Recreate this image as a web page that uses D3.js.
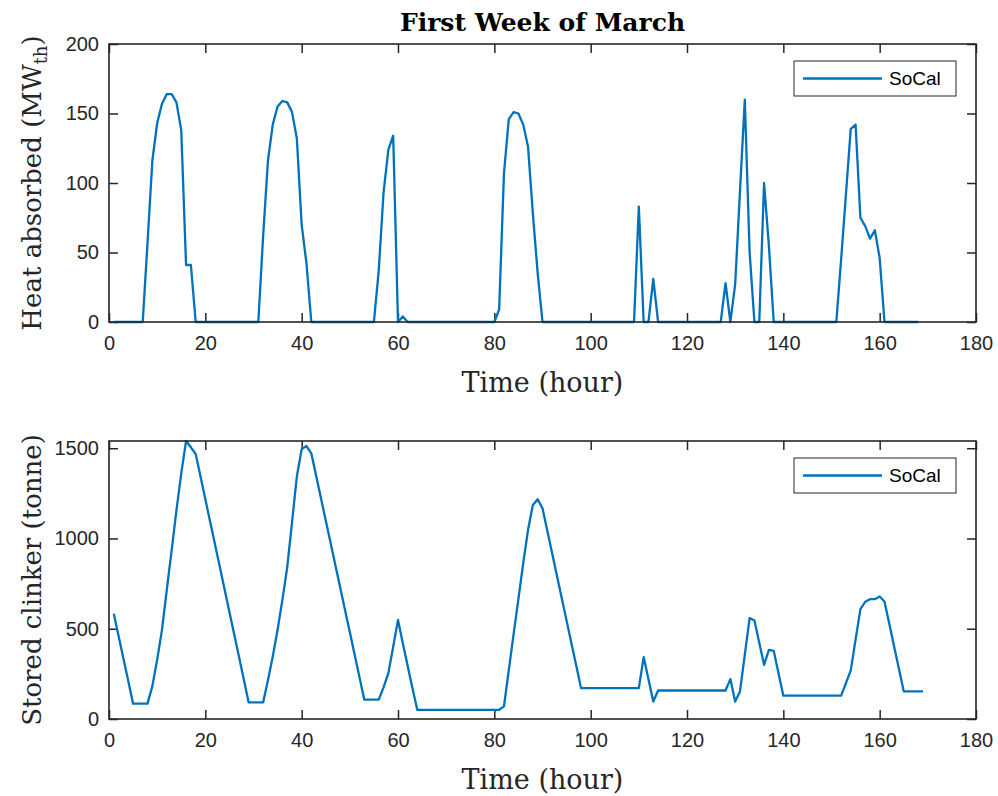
<!DOCTYPE html>
<html>
<head>
<meta charset="utf-8">
<script src="https://cdn.jsdelivr.net/npm/d3@7"></script>
<style>
  html, body { margin: 0; padding: 0; background: #fff; }
  svg { display: block; }
</style>
</head>
<body>
<svg id="chart" width="998" height="796"></svg>
<script>
// ---------------- data ----------------
const chartTitle = "First Week of March";
const seriesName = "SoCal";
const xLabel = "Time (hour)";
const xTicks = [0, 20, 40, 60, 80, 100, 120, 140, 160, 180];
const heatTicks = [0, 50, 100, 150, 200];
const clinkerTicks = [0, 500, 1000, 1500];

// Heat absorbed (MW_th), hours 1..168
const heatAbsorbed = [
  0, 0, 0, 0, 0, 0, 0, 57, 116, 143, 157, 164, 164, 158, 138, 41, 41, 0, 0, 0,
  0, 0, 0, 0, 0, 0, 0, 0, 0, 0, 0, 62, 116, 142, 155, 159, 158, 151, 132, 70,
  42, 0, 0, 0, 0, 0, 0, 0, 0, 0, 0, 0, 0, 0, 0, 37, 93, 124, 134, 0,
  4, 0, 0, 0, 0, 0, 0, 0, 0, 0, 0, 0, 0, 0, 0, 0, 0, 0, 0, 0,
  9, 107, 146, 151, 150, 142, 126, 78, 35, 0, 0, 0, 0, 0, 0, 0, 0, 0, 0, 0,
  0, 0, 0, 0, 0, 0, 0, 0, 0, 83, 0, 0, 31, 0, 0, 0, 0, 0, 0, 0,
  0, 0, 0, 0, 0, 0, 0, 28, 0, 27, 94, 160, 50, 0, 0, 100, 55, 0, 0, 0,
  0, 0, 0, 0, 0, 0, 0, 0, 0, 0, 0, 45, 92, 139, 142, 75, 69, 60, 66, 46,
  0, 0, 0, 0, 0, 0, 0, 0
];

// Stored clinker (tonne), hours 1..169
const storedClinker = [
  583, 458, 334, 210, 85, 85, 85, 85, 182, 328, 494, 716, 933, 1156, 1361, 1540, 1505, 1468, 1343, 1218,
  1093, 968, 843, 718, 593, 468, 343, 218, 92, 92, 92, 92, 215, 346, 494, 660, 840, 1090, 1343, 1495,
  1512, 1472, 1348, 1224, 1100, 976, 852, 728, 604, 480, 356, 232, 107, 107, 107, 107, 175, 254, 400, 549,
  420, 295, 170, 51, 51, 51, 51, 51, 51, 51, 51, 51, 51, 51, 51, 51, 51, 51, 51, 51,
  51, 70, 270, 470, 665, 863, 1048, 1186, 1217, 1167, 1043, 918, 794, 669, 545, 420, 296, 171, 171, 171,
  171, 171, 171, 171, 171, 171, 171, 171, 171, 171, 343, 220, 97, 158, 158, 158, 158, 158, 158, 158,
  158, 158, 158, 158, 158, 158, 158, 158, 221, 97, 153, 356, 559, 546, 423, 300, 383, 378, 253, 129,
  129, 129, 129, 129, 129, 129, 129, 129, 129, 129, 129, 129, 199, 269, 440, 609, 649, 664, 664, 679,
  651, 527, 402, 278, 153, 153, 153, 153, 153
];

// ---------------- drawing ----------------
const svg = d3.select("#chart");
const frameColor = "#262626";
const lineColor = "#0072BD";
const tickFont = "'Liberation Sans', Arial, sans-serif";
const labelFont = "'DejaVu Serif', 'Liberation Serif', serif";

svg.append("rect").attr("width", 998).attr("height", 796).attr("fill", "#fff");

function panel(cfg) {
  const {left, right, top, bottom, values, yDomain, yTicks, yLabel, yLabelSub, legendTop} = cfg;
  const x = d3.scaleLinear().domain([0, 180]).range([left, right]);
  const y = d3.scaleLinear().domain(yDomain).range([bottom, top]);
  const g = svg.append("g");
  const tickLen = 9;

  // axes with inward ticks
  const axB = d3.axisBottom(x).tickValues(xTicks).tickSize(-tickLen).tickPadding(14).tickFormat(d3.format("d"));
  const axT = d3.axisTop(x).tickValues(xTicks).tickSize(-tickLen).tickFormat("");
  const axL = d3.axisLeft(y).tickValues(yTicks).tickSize(-tickLen).tickPadding(10).tickFormat(d3.format("d"));
  const axR = d3.axisRight(y).tickValues(yTicks).tickSize(-tickLen).tickFormat("");

  const gb = g.append("g").attr("transform", `translate(0,${bottom})`).call(axB);
  const gt = g.append("g").attr("transform", `translate(0,${top})`).call(axT);
  const gl = g.append("g").attr("transform", `translate(${left},0)`).call(axL);
  const gr = g.append("g").attr("transform", `translate(${right},0)`).call(axR);
  [gb, gt, gl, gr].forEach(a => {
    a.select(".domain").remove();
    a.selectAll(".tick line").attr("stroke", frameColor).attr("stroke-width", 1.5);
    a.selectAll(".tick text").attr("fill", "#262626").attr("font-family", tickFont).attr("font-size", 20);
  });

  // data line
  const line = d3.line().x((d, i) => x(i + 1)).y(d => y(d));
  g.append("path").datum(values)
    .attr("fill", "none").attr("stroke", lineColor).attr("stroke-width", 2.3)
    .attr("stroke-linejoin", "round").attr("d", line);

  // frame
  g.append("rect").attr("x", left).attr("y", top)
    .attr("width", right - left).attr("height", bottom - top)
    .attr("fill", "none").attr("stroke", frameColor).attr("stroke-width", 1.6);

  // x label
  g.append("text").attr("x", (left + right) / 2).attr("y", bottom + 70)
    .attr("text-anchor", "middle").attr("font-family", labelFont).attr("font-size", 27)
    .attr("fill", "#262626").text(xLabel);

  // y label
  const yl = g.append("text")
    .attr("transform", `translate(41,${(top + bottom) / 2}) rotate(-90)`)
    .attr("text-anchor", "middle").attr("font-family", labelFont).attr("font-size", 26)
    .attr("fill", "#262626");
  if (yLabelSub) {
    yl.append("tspan").text(yLabel[0]);
    yl.append("tspan").attr("font-size", 18).attr("dy", 6).text(yLabelSub);
    yl.append("tspan").attr("dy", -6).text(yLabel[1]);
  } else {
    yl.text(yLabel);
  }

  // legend
  const lx = 794, lw = 162, lh = 35;
  const lg = g.append("g").attr("transform", `translate(${lx},${legendTop})`);
  lg.append("rect").attr("width", lw).attr("height", lh)
    .attr("fill", "#fff").attr("stroke", frameColor).attr("stroke-width", 1);
  lg.append("line").attr("x1", 9).attr("x2", 88).attr("y1", lh / 2).attr("y2", lh / 2)
    .attr("stroke", lineColor).attr("stroke-width", 2.3);
  lg.append("text").attr("x", 95).attr("y", lh / 2).attr("dy", "0.35em")
    .attr("font-family", tickFont).attr("font-size", 19).attr("fill", "#000").text(seriesName);
}

panel({
  left: 109, right: 976, top: 44, bottom: 322,
  values: heatAbsorbed, yDomain: [0, 200], yTicks: heatTicks,
  yLabel: ["Heat absorbed (MW", ")"], yLabelSub: "th", legendTop: 61
});

panel({
  left: 109, right: 976, top: 441, bottom: 719,
  values: storedClinker, yDomain: [0, d3.max(storedClinker)], yTicks: clinkerTicks,
  yLabel: "Stored clinker (tonne)", legendTop: 458
});

svg.append("text").attr("x", 542.5).attr("y", 31)
  .attr("text-anchor", "middle").attr("font-family", labelFont).attr("font-weight", "bold")
  .attr("font-size", 25).attr("fill", "#000").text(chartTitle);
</script>
</body>
</html>
